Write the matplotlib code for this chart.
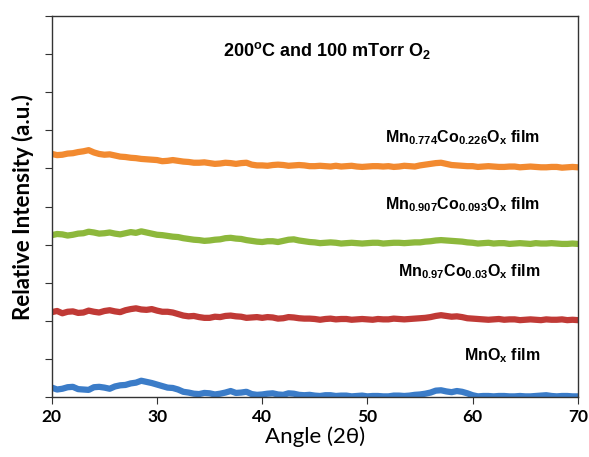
import numpy as np
from matplotlib import pyplot as plt

# readings at whole degrees (20..70) and at the half degrees between them
angle_whole = list(range(20, 71))
angle_half = [a + 0.5 for a in range(20, 70)]

mnox = [0.25, 0.22, 0.27, 0.20, 0.26, 0.25, 0.28, 0.32, 0.38, 0.40,
        0.33, 0.25, 0.20, 0.12, 0.08, 0.10, 0.09, 0.16, 0.12, 0.08,
        0.07, 0.10, 0.06, 0.09, 0.05, 0.04, 0.05, 0.03, 0.04, 0.03,
        0.02, 0.03, 0.02, 0.04, 0.04, 0.07, 0.12, 0.18, 0.13, 0.14,
        0.05, 0.03, 0.02, 0.03, 0.02, 0.02, 0.03, 0.05, 0.02, 0.03, 0.02]
mnox_half = [0.20, 0.26, 0.21, 0.19, 0.27, 0.22, 0.31, 0.36, 0.43, 0.37,
             0.29, 0.24, 0.14, 0.09, 0.11, 0.07, 0.12, 0.11, 0.14, 0.06,
             0.09, 0.07, 0.10, 0.06, 0.06, 0.03, 0.05, 0.04, 0.02, 0.04,
             0.03, 0.02, 0.04, 0.03, 0.06, 0.09, 0.17, 0.15, 0.16, 0.10,
             0.02, 0.03, 0.03, 0.02, 0.03, 0.02, 0.04, 0.03, 0.03, 0.02]

co003 = [2.23, 2.20, 2.25, 2.22, 2.24, 2.26, 2.25, 2.28, 2.33, 2.29,
         2.27, 2.24, 2.18, 2.12, 2.10, 2.08, 2.10, 2.14, 2.11, 2.09,
         2.08, 2.09, 2.07, 2.09, 2.06, 2.05, 2.05, 2.04, 2.05, 2.04,
         2.04, 2.05, 2.04, 2.05, 2.05, 2.07, 2.10, 2.15, 2.11, 2.10,
         2.06, 2.04, 2.04, 2.03, 2.04, 2.03, 2.03, 2.04, 2.03, 2.02, 2.02]
co003_half = [2.26, 2.24, 2.21, 2.27, 2.22, 2.28, 2.23, 2.31, 2.30, 2.31,
              2.24, 2.22, 2.14, 2.13, 2.08, 2.11, 2.13, 2.12, 2.08, 2.10,
              2.10, 2.06, 2.10, 2.07, 2.06, 2.03, 2.06, 2.05, 2.03, 2.05,
              2.03, 2.04, 2.06, 2.04, 2.06, 2.08, 2.13, 2.13, 2.12, 2.07,
              2.05, 2.03, 2.05, 2.04, 2.02, 2.04, 2.02, 2.03, 2.04, 2.03]

co093 = [4.25, 4.27, 4.26, 4.30, 4.32, 4.30, 4.29, 4.30, 4.31, 4.32,
         4.26, 4.23, 4.20, 4.15, 4.12, 4.11, 4.14, 4.18, 4.15, 4.10,
         4.07, 4.09, 4.10, 4.14, 4.09, 4.06, 4.05, 4.05, 4.04, 4.04,
         4.04, 4.05, 4.04, 4.05, 4.05, 4.06, 4.09, 4.12, 4.10, 4.08,
         4.05, 4.04, 4.03, 4.04, 4.03, 4.03, 4.04, 4.03, 4.03, 4.02, 4.02]
co093_half = [4.28, 4.24, 4.29, 4.34, 4.29, 4.32, 4.27, 4.33, 4.35, 4.29,
              4.25, 4.21, 4.17, 4.13, 4.10, 4.13, 4.17, 4.16, 4.12, 4.08,
              4.09, 4.07, 4.13, 4.11, 4.07, 4.04, 4.06, 4.03, 4.05, 4.03,
              4.05, 4.03, 4.05, 4.04, 4.06, 4.08, 4.11, 4.11, 4.09, 4.06,
              4.03, 4.05, 4.04, 4.02, 4.04, 4.02, 4.03, 4.04, 4.02, 4.03]

co226 = [6.38, 6.36, 6.40, 6.45, 6.42, 6.36, 6.34, 6.30, 6.27, 6.24,
         6.22, 6.20, 6.20, 6.17, 6.15, 6.14, 6.13, 6.14, 6.14, 6.10,
         6.08, 6.09, 6.09, 6.08, 6.08, 6.06, 6.06, 6.07, 6.06, 6.05,
         6.05, 6.06, 6.06, 6.05, 6.06, 6.08, 6.12, 6.15, 6.09, 6.07,
         6.06, 6.05, 6.05, 6.04, 6.05, 6.04, 6.04, 6.03, 6.04, 6.03, 6.03]
co226_half = [6.35, 6.39, 6.43, 6.48, 6.38, 6.37, 6.31, 6.28, 6.25, 6.23,
              6.19, 6.22, 6.18, 6.15, 6.16, 6.12, 6.15, 6.12, 6.15, 6.08,
              6.07, 6.10, 6.07, 6.09, 6.06, 6.07, 6.05, 6.05, 6.07, 6.04,
              6.06, 6.05, 6.04, 6.07, 6.05, 6.10, 6.14, 6.12, 6.08, 6.06,
              6.04, 6.06, 6.04, 6.05, 6.03, 6.05, 6.03, 6.04, 6.02, 6.04]

labels = [r"MnO$_\mathrm{x}$ film",
          r"Mn$_{\mathrm{0.97}}$Co$_{\mathrm{0.03}}$O$_\mathrm{x}$ film",
          r"Mn$_{\mathrm{0.907}}$Co$_{\mathrm{0.093}}$O$_\mathrm{x}$ film",
          r"Mn$_{\mathrm{0.774}}$Co$_{\mathrm{0.226}}$O$_\mathrm{x}$ film"]
label_y = [1.10, 3.28, 5.04, 6.82]
colors = ["#3B7CC8", "#C03A36", "#8DB83C", "#F28A30"]


def merge(whole, half):
    # put whole-degree and half-degree readings in angle order
    x = np.concatenate([angle_whole, angle_half])
    y = np.concatenate([whole, half])
    order = np.argsort(x)
    return x[order], y[order]


plt.rcParams['mathtext.fontset'] = 'custom'
plt.rcParams['mathtext.rm'] = 'Liberation Sans:bold'
plt.rcParams['mathtext.it'] = 'Liberation Sans:bold'
plt.rcParams['mathtext.bf'] = 'Liberation Sans:bold'

fig = plt.figure(figsize=(5.89, 4.57), dpi=100)
ax = fig.add_axes([0.088, 0.131, 0.893, 0.834])

series = [(mnox, mnox_half), (co003, co003_half),
          (co093, co093_half), (co226, co226_half)]
for (w, h), c in zip(series, colors):
    x, y = merge(w, h)
    ax.plot(x, y, color=c, lw=4.5, solid_joinstyle='round')

for lab, y in zip(labels, label_y):
    ax.text(66.4, y, lab, ha='right', va='center', fontsize=11.5,
            family='Liberation Sans', weight='bold')

ax.text(46.2, 9.1, r"200$^{\mathrm{o}}$C and 100 mTorr O$_2$", ha='center',
        va='center', fontsize=13, family='Liberation Sans', weight='bold')

ax.set_xlim(20, 70)
ax.set_ylim(0, 10)
ax.set_xticks([20, 30, 40, 50, 60, 70])
ax.set_yticks(np.arange(0, 11, 1))
ax.set_yticklabels([])
ax.tick_params(direction='out', length=5, color='#333333')
for lbl in ax.get_xticklabels():
    lbl.set_family('Lato')
    lbl.set_weight('bold')
    lbl.set_fontsize(12.5)
for sp in ax.spines.values():
    sp.set_color('#333333')
    sp.set_linewidth(1)

ax.set_xlabel("Angle (2θ)", family='Lato', fontsize=16, labelpad=1)
ax.set_ylabel("Relative Intensity (a.u.)", family='Lato', weight='bold',
              fontsize=16, labelpad=4)

plt.savefig("out.png", dpi=100)
